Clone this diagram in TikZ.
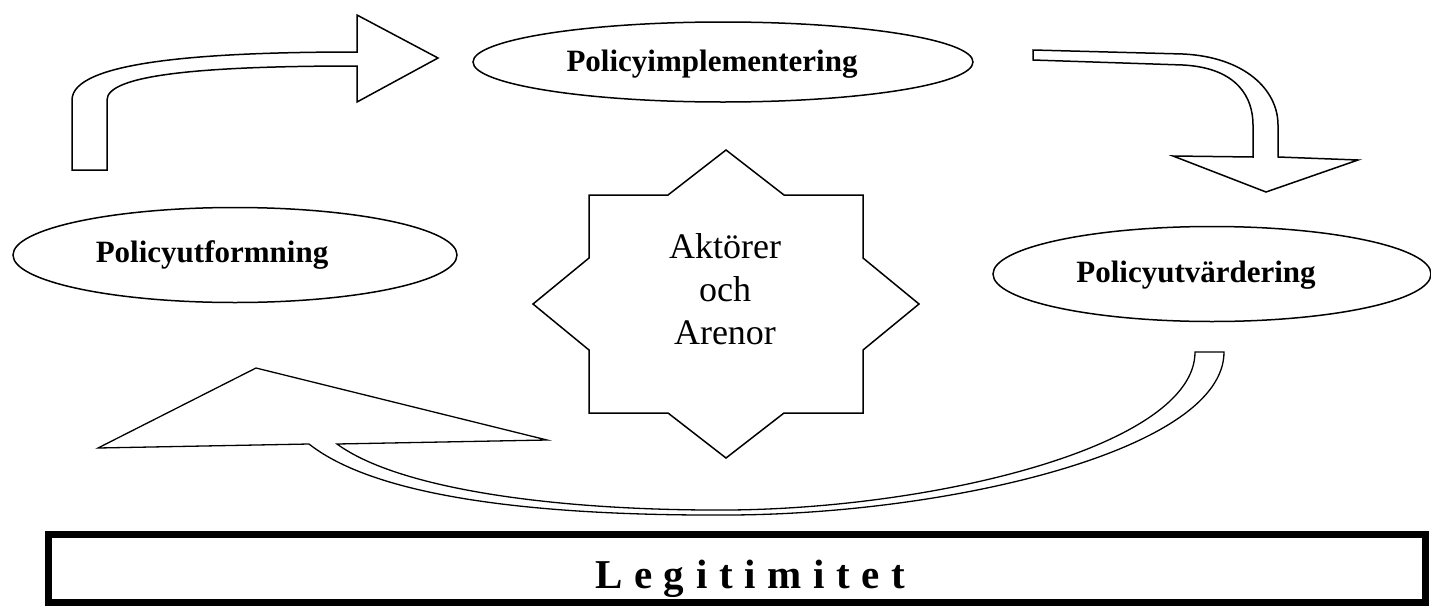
\documentclass[tikz,border=0pt]{standalone}
\usepackage{fontspec}
\setmainfont{Liberation Serif}
\usepackage{tikz}
\usetikzlibrary{positioning,shapes.geometric}

\begin{document}
\begin{tikzpicture}[x=1pt,y=-1pt,
  ell/.style={draw,ellipse,line width=1.5pt,inner sep=0pt},
  lbl/.style={font=\fontsize{31}{37}\selectfont\bfseries,anchor=base,inner sep=0pt},
  blk/.style={draw,line width=1.5pt,line join=miter},
  frame/.style={draw,line width=7pt,inner sep=0pt,minimum width=1377pt,minimum height=68pt}]
  \useasboundingbox (0,0) rectangle (1431,608);

  % the three phases
  \node[ell,minimum width=500pt,minimum height=80pt] (impl) at (723,62) {};
  \node[ell,minimum width=444pt,minimum height=95pt] (utf) at (235,255) {};
  \node[ell,minimum width=438pt,minimum height=95pt] (utv) at (1212,274) {};
  \node[lbl] (impltxt) at (712,71) {Policyimplementering};
  \node[lbl] (utftxt) at (212,262) {Policyutformning};
  \node[lbl] (utvtxt) at (1196,282) {Policyutvärdering};

  % star in the middle
  \draw[blk] (726,150) -- (668,195) -- (589,195) -- (589,258) -- (533,304)
    -- (589,350) -- (589,413) -- (668,413) -- (726,458) -- (784,413)
    -- (863,413) -- (863,350) -- (919,304) -- (863,258) -- (863,195)
    -- (784,195) -- cycle;
  \node[align=center,inner sep=0pt,font=\fontsize{36}{43}\selectfont] (akt) at (725,289)
    {Aktörer\\och\\Arenor};

  % block arrows
  \draw[blk] (72,170) -- (72,100) .. controls (72,62) and (200,52) .. (357,52)
    -- (357,15) -- (438,58) -- (357,102) -- (357,66)
    .. controls (200,66) and (107,75) .. (107,100) -- (107,170) -- cycle;
  \draw[blk] (1033,50) -- (1183,54) .. controls (1245,57) and (1278,90) .. (1278,125)
    -- (1278,157) -- (1358,160) -- (1266,192) -- (1173,156) -- (1253,157) -- (1253,125)
    .. controls (1253,98) and (1238,68) .. (1183,65) -- (1033,60) -- cycle;
  \draw[blk,line width=1.3pt] (1224,352) .. controls (1224,450) and (950,514) .. (730,515)
    .. controls (550,516) and (380,500) .. (309,444)
    -- (98,448) -- (256,368) -- (547,440) -- (337,444)
    .. controls (400,490) and (560,511) .. (730,510)
    .. controls (940,508) and (1195,445) .. (1195,352) -- cycle;

  % base
  \node[frame] (legit) at (736.5,568) {};
  \node[font=\fontsize{41}{48}\selectfont\bfseries,anchor=base,inner sep=0pt] (legtxt) at (750,588)
    {L\hspace{11.6pt}e\hspace{11.6pt}g\hspace{11.6pt}i\hspace{11.6pt}t\hspace{11.6pt}i\hspace{11.6pt}m\hspace{11.6pt}i\hspace{11.6pt}t\hspace{11.6pt}e\hspace{11.6pt}t};
\end{tikzpicture}
\end{document}
